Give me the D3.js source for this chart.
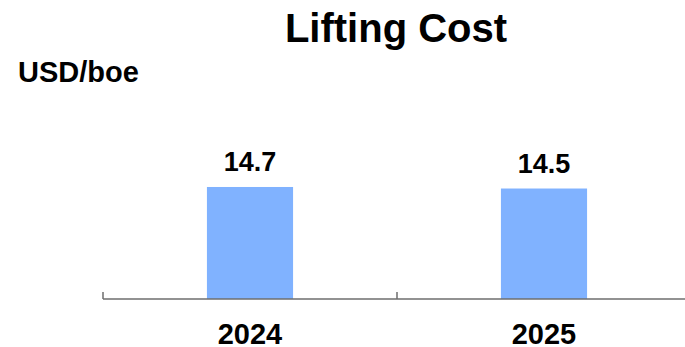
<!DOCTYPE html>
<html>
<head>
<meta charset="utf-8">
<script src="https://cdn.jsdelivr.net/npm/d3@7"></script>
<style>
  html, body { margin: 0; padding: 0; background: #fff; }
  svg { display: block; font-family: "Liberation Sans", Arial, sans-serif; }
</style>
</head>
<body>
<svg id="chart" width="685" height="347"></svg>
<script>
// Lifting cost per barrel of oil equivalent
const categories = ["2024", "2025"];
const values = [14.7, 14.5];
const title = "Lifting Cost";
const unitLabel = "USD/boe";

const svg = d3.select("#chart");
const baseY = 299;

const x = d3.scaleBand().domain(categories).range([103, 691]).padding(0);
const y = d3.scaleLinear().domain([0, 20]).range([baseY, baseY - 20 * 7.62]);

const barFrac = 0.293;
const barW = x.bandwidth() * barFrac;

// Title and unit
svg.append("text")
  .attr("x", 396).attr("y", 42)
  .attr("text-anchor", "middle")
  .attr("font-size", 40).attr("font-weight", "bold")
  .text(title);

svg.append("text")
  .attr("x", 18).attr("y", 82)
  .attr("font-size", 29).attr("font-weight", "bold")
  .text(unitLabel);

// Bars
svg.selectAll("rect.bar")
  .data(categories)
  .join("rect")
  .attr("class", "bar")
  .attr("x", d => x(d) + (x.bandwidth() - barW) / 2)
  .attr("width", barW)
  .attr("y", (d, i) => y(values[i]))
  .attr("height", (d, i) => y(0) - y(values[i]))
  .attr("fill", "#80b2ff");

// Value labels
svg.selectAll("text.val")
  .data(categories)
  .join("text")
  .attr("class", "val")
  .attr("x", d => x(d) + x.bandwidth() / 2)
  .attr("y", (d, i) => y(values[i]) - 16)
  .attr("text-anchor", "middle")
  .attr("font-size", 27).attr("font-weight", "bold")
  .text((d, i) => values[i].toFixed(1));

// Category axis: baseline with tick marks at band boundaries
const axis = svg.append("g");
axis.append("line")
  .attr("x1", x.range()[0]).attr("x2", x.range()[1])
  .attr("y1", baseY).attr("y2", baseY)
  .attr("stroke", "#6e6e6e").attr("stroke-width", 1.5);
axis.selectAll("line.tick")
  .data(categories)
  .join("line")
  .attr("class", "tick")
  .attr("x1", d => x(d)).attr("x2", d => x(d))
  .attr("y1", baseY - 7).attr("y2", baseY)
  .attr("stroke", "#6e6e6e").attr("stroke-width", 1.5);

axis.selectAll("text.cat")
  .data(categories)
  .join("text")
  .attr("class", "cat")
  .attr("x", d => x(d) + x.bandwidth() / 2)
  .attr("y", 344)
  .attr("text-anchor", "middle")
  .attr("font-size", 29).attr("font-weight", "bold")
  .text(d => d);
</script>
</body>
</html>
